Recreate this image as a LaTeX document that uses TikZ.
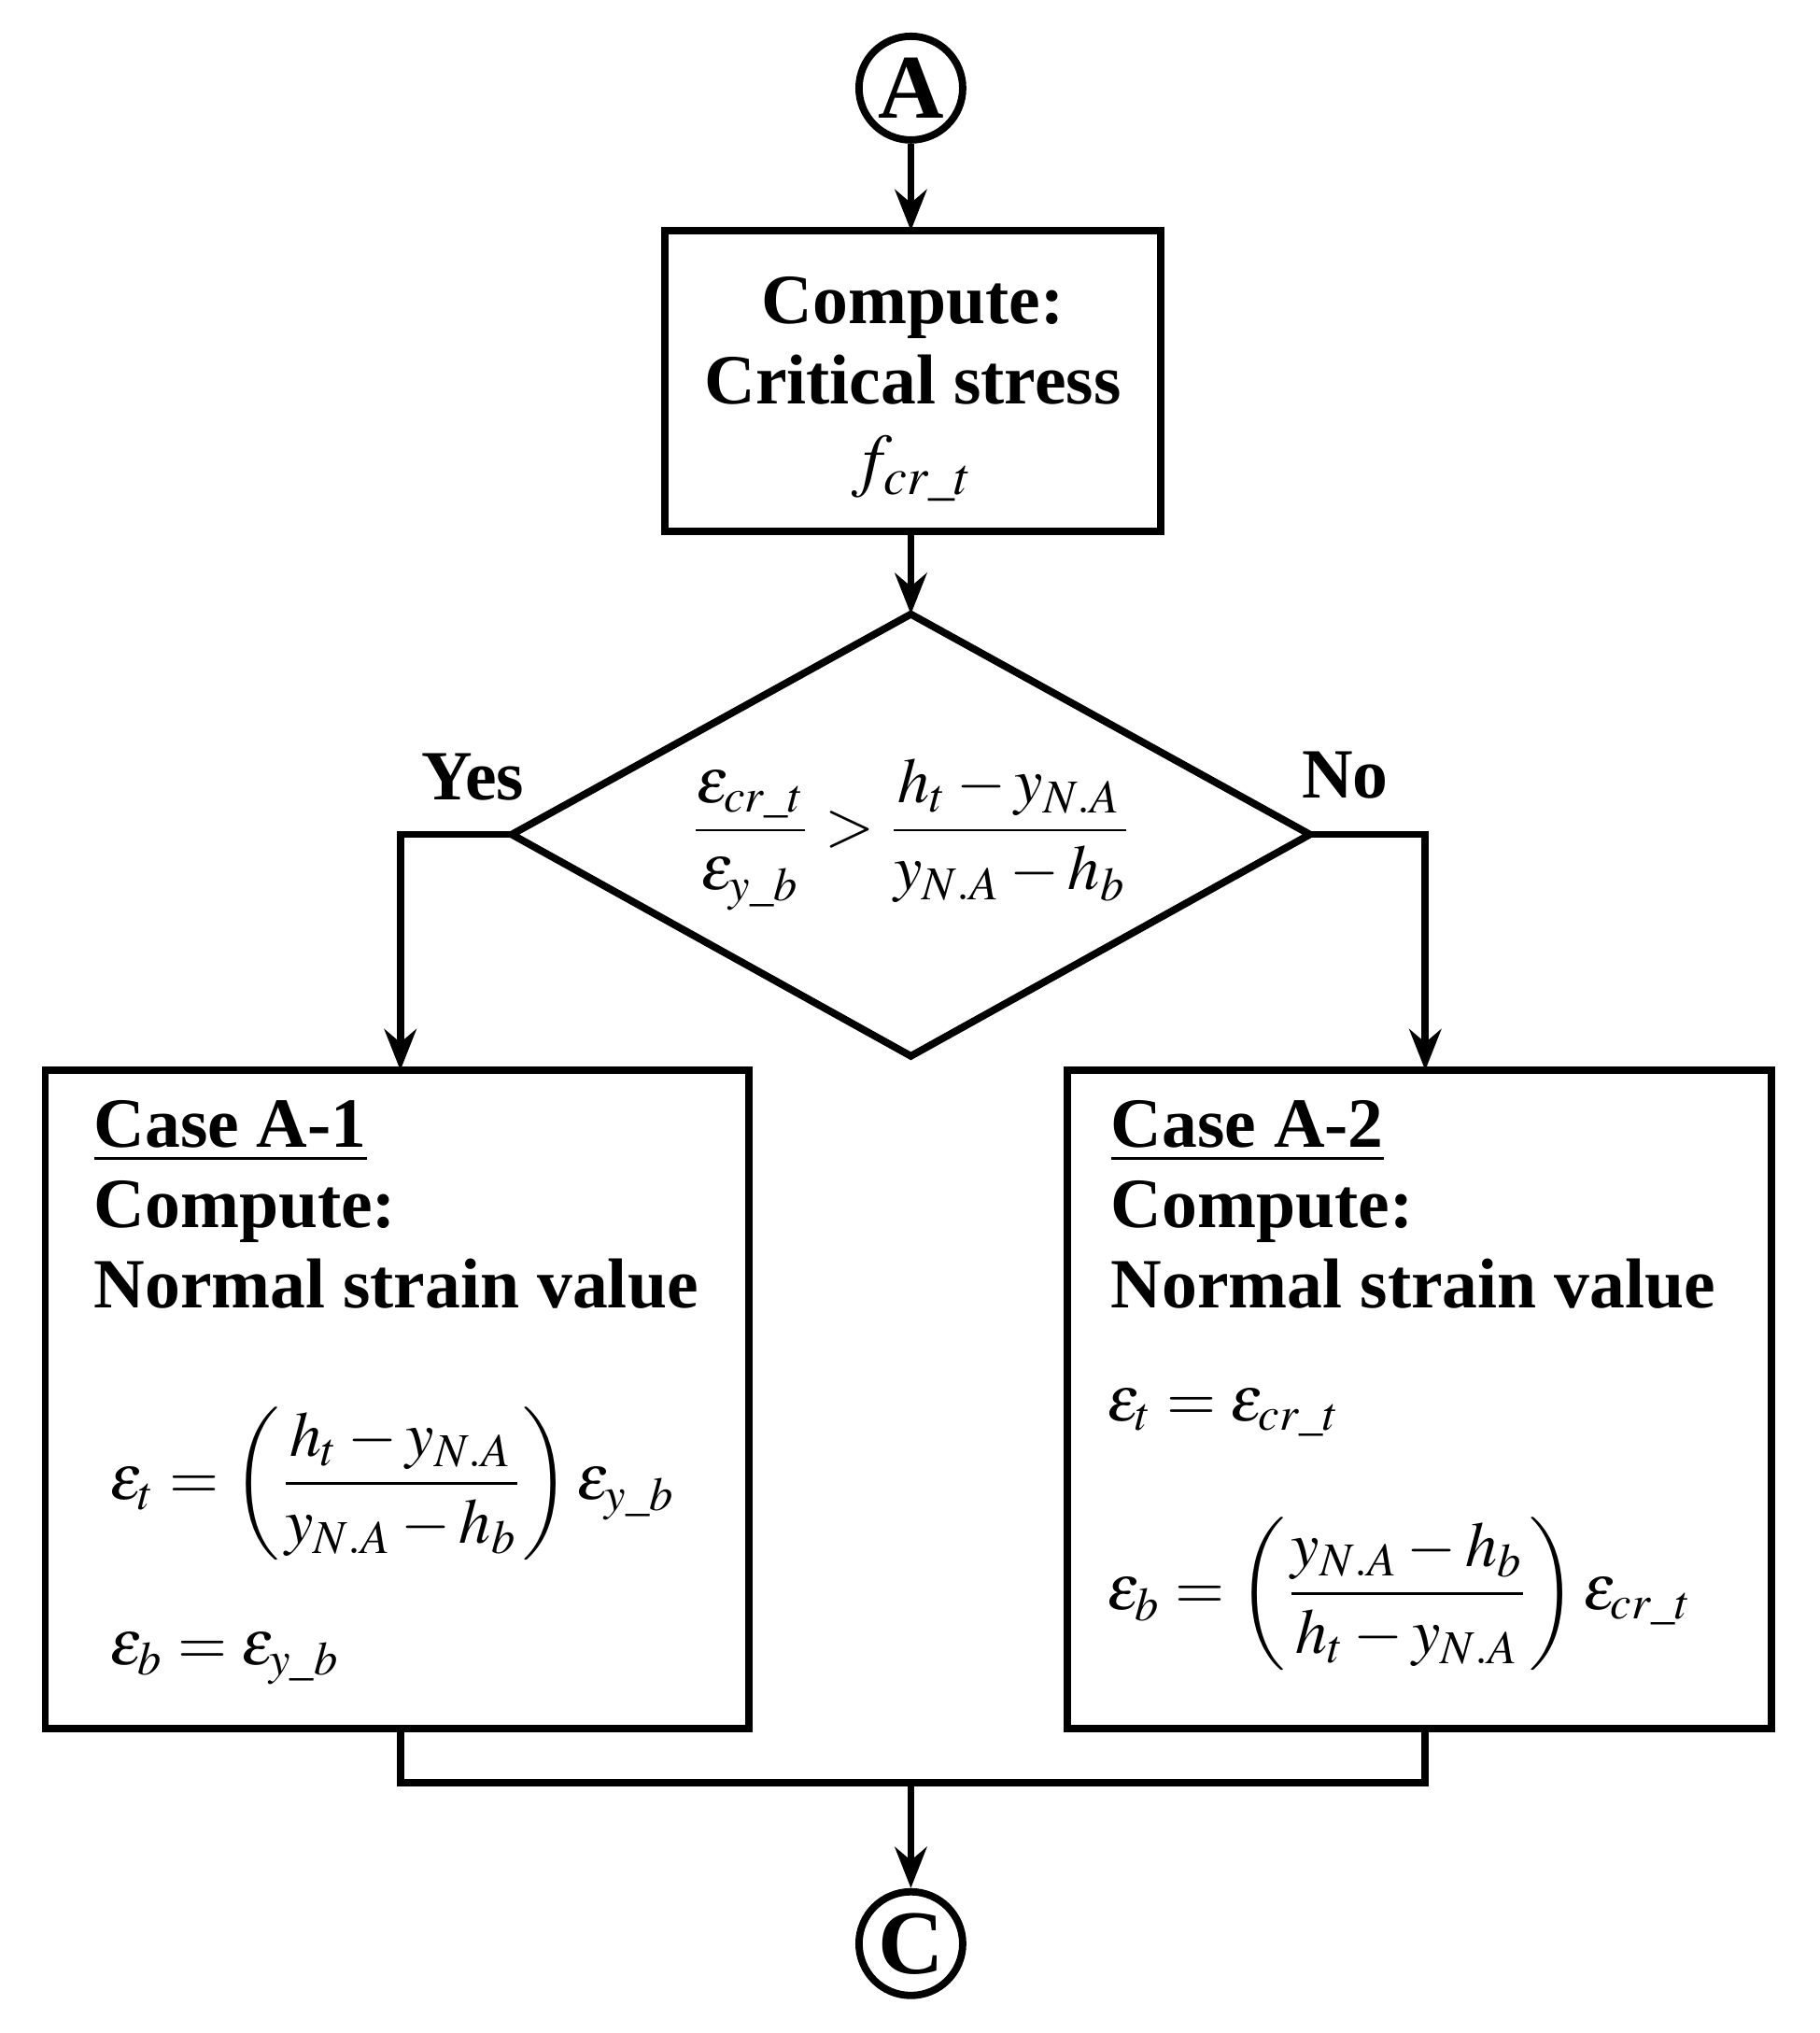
\documentclass[tikz,border=0pt]{standalone}
\usepackage{amsmath}
\usepackage{mathptmx}
\usepackage{fontspec}
\setmainfont{Liberation Serif}
\usetikzlibrary{arrows.meta,shapes.geometric}
\begin{document}
\begin{tikzpicture}[x=0.01cm,y=-0.01cm,
  line width=1.6pt,
  arr/.style={-{Stealth[length=9pt,width=7pt]}},
  txt/.style={font=\fontsize{15.5}{17.6}\selectfont\bfseries},
  mth/.style={font=\fontsize{14}{16}\selectfont},
  circ/.style={circle,draw,minimum size=0.8cm,inner sep=0pt,font=\fontsize{20}{22}\selectfont\bfseries}]
\useasboundingbox (0,0) rectangle (1404,1569);
\node[circ] (A) at (703,68) {A};
\draw (513,178) rectangle (896,410);
\node[txt,align=center] (b1) at (704.5,300) {Compute:\\Critical stress\\\normalfont$f_{cr\_t}$};
\coordinate (b1t) at (703,178);
\coordinate (b1b) at (703,410);
\draw[arr] (A) -- (b1t);
\coordinate (dt) at (703,474);
\coordinate (db) at (703,815);
\coordinate (dl) at (395,644);
\coordinate (dr) at (1011,644);
\draw (dt) -- (dr) -- (db) -- (dl) -- cycle;
\draw[arr] (b1b) -- (dt);
\node[mth] (cond) at (703,644) {$\dfrac{\varepsilon_{cr\_t}}{\varepsilon_{y\_b}} > \dfrac{h_t - y_{N.A}}{y_{N.A}-h_b}$};
\node[txt] (yes) at (365,600) {Yes};
\node[txt] (no) at (1038,598) {No};
\coordinate (l1) at (309,644);
\coordinate (r1) at (1100,644);
\coordinate (l2) at (309,826);
\coordinate (r2) at (1100,826);
\draw[arr] (dl) -- (l1) -- (l2);
\draw[arr] (dr) -- (r1) -- (r2);
\draw (35,826) rectangle (578,1334);
\draw (824,826) rectangle (1367,1334);
\node[txt,align=left,anchor=north west] (t1) at (58,835) {\underline{Case A-1}\\Compute:\\Normal strain value};
\node[txt,align=left,anchor=north west] (t2) at (843,835) {\underline{Case A-2}\\Compute:\\Normal strain value};
\node[mth,anchor=west] (e1) at (70,1145) {$\varepsilon_t = \left(\dfrac{h_t - y_{N.A}}{y_{N.A}-h_b}\right)\varepsilon_{y\_b}$};
\node[mth,anchor=west] (e2) at (70,1280) {$\varepsilon_b = \varepsilon_{y\_b}$};
\node[mth,anchor=west] (e3) at (840,1090) {$\varepsilon_t = \varepsilon_{cr\_t}$};
\node[mth,anchor=west] (e4) at (840,1230) {$\varepsilon_b = \left(\dfrac{y_{N.A}-h_b}{h_t - y_{N.A}}\right)\varepsilon_{cr\_t}$};
\coordinate (lb) at (309,1334);
\coordinate (rb) at (1100,1334);
\coordinate (lm) at (309,1376);
\coordinate (rm) at (1100,1376);
\coordinate (mm) at (703,1376);
\draw (lb) -- (lm) -- (rm) -- (rb);
\node[circ] (C) at (703,1500) {C};
\draw[arr] (mm) -- (C);
\end{tikzpicture}
\end{document}
